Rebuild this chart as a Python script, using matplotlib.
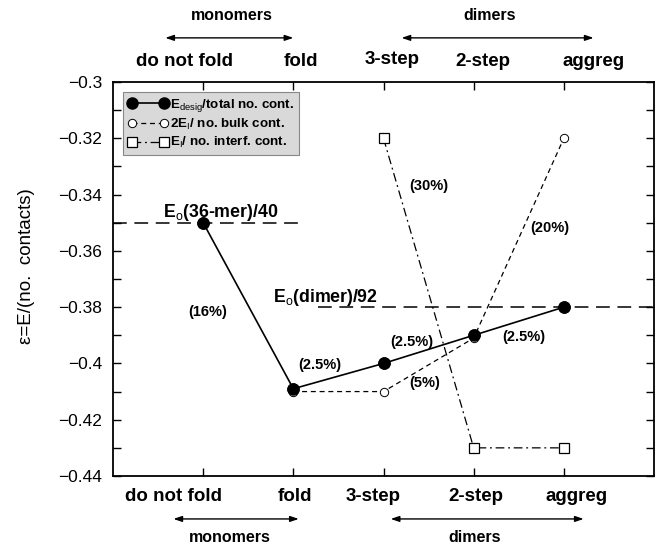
import matplotlib
matplotlib.use("Agg")
import matplotlib.pyplot as plt
from matplotlib.ticker import MultipleLocator, FuncFormatter

plt.rcParams['font.family'] = ['Liberation Sans', 'DejaVu Sans']
plt.rcParams['mathtext.fontset'] = 'custom'
plt.rcParams['mathtext.rm'] = 'Liberation Sans'
plt.rcParams['mathtext.it'] = 'Liberation Sans:italic'
plt.rcParams['mathtext.bf'] = 'Liberation Sans:bold'

# ---- data ----
categories = ["do not fold", "fold", "3-step", "2-step", "aggreg"]
x_desig = [1, 2, 3, 4, 5]
e_desig = [-0.35, -0.409, -0.40, -0.39, -0.38]
x_bulk = [2, 3, 4, 5]
e_bulk = [-0.41, -0.41, -0.391, -0.32]
x_interf = [3, 4, 5]
e_interf = [-0.32, -0.43, -0.43]
e0_36mer = -0.35
e0_dimer = -0.38
pct_labels = ["(16%)", "(2.5%)", "(2.5%)", "(5%)", "(2.5%)", "(20%)", "(30%)"]
pct_x = [1.05, 2.29, 3.31, 3.46, 4.56, 4.84, 3.5]
pct_y = [-0.3817, -0.4006, -0.3923, -0.407, -0.3905, -0.352, -0.337]
top_label_x = [0.79, 2.08, 3.1, 4.1, 5.33]
bot_label_x = [0.67, 2.02, 2.89, 4.03, 5.14]

fig = plt.figure(figsize=(6.56, 5.46), dpi=100)
ax = fig.add_axes([113/656, 1-476/546, 541/656, 394/546])
ax.set_xlim(0, 6)
ax.set_ylim(-0.44, -0.30)

# reference lines
ax.plot([0, 2.12], [e0_36mer, e0_36mer], color='black', lw=1.1, dashes=(9, 5))
ax.plot([2.27, 6], [e0_dimer, e0_dimer], color='black', lw=1.1, dashes=(9, 5))

l1, = ax.plot(x_desig, e_desig, color='black', lw=1.2, marker='o', ms=8,
              mfc='black', mec='black', label=r'E$_{\rm desig}$/total no. cont.')
l2, = ax.plot(x_bulk, e_bulk, color='black', lw=0.9, dashes=(4, 3), marker='o',
              ms=6, mfc='white', mec='black', mew=0.7,
              label=r'2E$_{\rm I}$/ no. bulk cont.')
l3, = ax.plot(x_interf, e_interf, color='black', lw=0.9, dashes=(7, 3, 1.5, 3),
              marker='s', ms=6.5, mfc='white', mec='black', mew=0.9,
              label=r'E$_{\rm I}$/ no. interf. cont.')
ax.plot(x_desig, e_desig, ls='none', marker='o', ms=8, mfc='black', mec='black', zorder=5)

leg = ax.legend(handles=[l1, l2, l3], loc='upper left',
                bbox_to_anchor=(0.019, 0.975), numpoints=2, handlelength=3.0,
                prop={'weight': 'bold', 'size': 9.6},
                fancybox=False, framealpha=1, facecolor='#d9d9d9',
                edgecolor='#888888', borderpad=0.35, labelspacing=0.25,
                handletextpad=0.15, borderaxespad=0)
leg.get_frame().set_linewidth(0.8)

# annotations
ax.text(0.55, e0_36mer + 0.0036, r'E$_{\rm o}$(36-mer)/40', fontsize=12.8,
        fontweight='bold', ha='left', va='center')
ax.text(1.78, -0.3764, r'E$_{\rm o}$(dimer)/92', fontsize=12.8,
        fontweight='bold', ha='left', va='center')
for t, px, py in zip(pct_labels, pct_x, pct_y):
    ax.text(px, py, t, fontsize=10.5, fontweight='bold', ha='center', va='center')

# ticks
ax.xaxis.set_major_locator(plt.FixedLocator([1, 2, 3, 4, 5]))
ax.yaxis.set_major_locator(MultipleLocator(0.01))
ax.yaxis.set_major_formatter(FuncFormatter(
    lambda v, p: ('%g' % round(v, 2)).replace('-', '\u2212') if round(v * 100) % 2 == 0 else ''))
ax.tick_params(axis='both', direction='in', length=6, width=1,
               top=True, right=True, labelbottom=False)
ax.tick_params(axis='y', labelsize=12.5, pad=8)
for s in ax.spines.values():
    s.set_linewidth(1.3)
ax.set_ylabel('\u03b5=E/(no.  contacts)', fontsize=13.5)
ax.yaxis.set_label_coords(-0.144, 0.533)

# category labels top and bottom
tr = ax.get_xaxis_transform()
for c, tx in zip(categories, top_label_x):
    yy = 1.058 if c == "3-step" else 1.051
    ax.text(tx, yy, c, transform=tr, fontsize=13.5,
            fontweight='bold', ha='center', va='center')
for c, bx in zip(categories, bot_label_x):
    ax.text(bx, -0.053, c, transform=tr, fontsize=13.5,
            fontweight='bold', ha='center', va='center')

aprops = dict(arrowstyle='<|-|>,head_length=0.5,head_width=0.17', lw=1,
              color='black', shrinkA=0, shrinkB=0)
ax.annotate('', xy=(0.58, 1.112), xytext=(2.0, 1.112), xycoords=tr,
            textcoords=tr, arrowprops=aprops, annotation_clip=False)
ax.annotate('', xy=(3.2, 1.112), xytext=(5.33, 1.112), xycoords=tr,
            textcoords=tr, arrowprops=aprops, annotation_clip=False)
ax.annotate('', xy=(0.67, -0.109), xytext=(2.06, -0.109), xycoords=tr,
            textcoords=tr, arrowprops=aprops, annotation_clip=False)
ax.annotate('', xy=(3.08, -0.109), xytext=(5.22, -0.109), xycoords=tr,
            textcoords=tr, arrowprops=aprops, annotation_clip=False)
ax.text(1.32, 1.17, 'monomers', transform=tr, fontsize=11.5, fontweight='bold',
        ha='center', va='center')
ax.text(4.18, 1.17, 'dimers', transform=tr, fontsize=11.5, fontweight='bold',
        ha='center', va='center')
ax.text(1.3, -0.157, 'monomers', transform=tr, fontsize=11.5, fontweight='bold',
        ha='center', va='center')
ax.text(4.01, -0.157, 'dimers', transform=tr, fontsize=11.5, fontweight='bold',
        ha='center', va='center')

fig.savefig('out.png', dpi=100)
